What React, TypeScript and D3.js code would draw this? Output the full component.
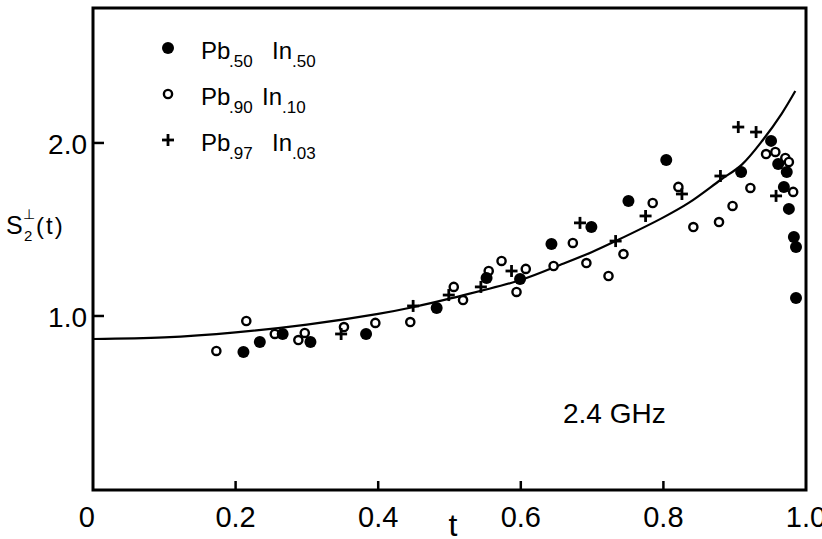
import React from "react";
import * as d3 from "d3";

// Pb.50 In.50 (filled circles): [t, S]
const filledPts: [number, number][] = [
  [0.211, 0.792], [0.234, 0.85], [0.266, 0.896], [0.305, 0.85], [0.383, 0.896],
  [0.482, 1.046], [0.552, 1.22], [0.599, 1.214], [0.643, 1.416], [0.699, 1.514],
  [0.751, 1.665], [0.804, 1.902], [0.909, 1.832], [0.951, 2.012], [0.961, 1.879],
  [0.973, 1.832], [0.969, 1.746], [0.976, 1.619], [0.983, 1.457], [0.986, 1.399],
  [0.986, 1.104],
];

// Pb.90 In.10 (open circles)
const openPts: [number, number][] = [
  [0.173, 0.798], [0.215, 0.971], [0.255, 0.896], [0.288, 0.861], [0.297, 0.902],
  [0.352, 0.936], [0.396, 0.96], [0.445, 0.965], [0.506, 1.168], [0.519, 1.092],
  [0.555, 1.26], [0.573, 1.318], [0.594, 1.139], [0.607, 1.272], [0.646, 1.289],
  [0.673, 1.422], [0.692, 1.306], [0.723, 1.231], [0.744, 1.358], [0.785, 1.653],
  [0.821, 1.746], [0.842, 1.514], [0.878, 1.543], [0.897, 1.636], [0.922, 1.74],
  [0.944, 1.936], [0.957, 1.948], [0.971, 1.913], [0.976, 1.89], [0.982, 1.717],
];

// Pb.97 In.03 (plus)
const plusPts: [number, number][] = [
  [0.348, 0.896], [0.449, 1.058], [0.499, 1.121], [0.544, 1.168], [0.587, 1.26],
  [0.683, 1.538], [0.733, 1.433], [0.775, 1.578], [0.826, 1.705], [0.88, 1.809],
  [0.905, 2.092], [0.93, 2.063], [0.958, 1.694],
];

// theory curve
const curvePts: [number, number][] = [
  [0, 0.867], [0.1, 0.876], [0.2, 0.905], [0.3, 0.95], [0.4, 1.012], [0.45, 1.052],
  [0.5, 1.1], [0.6, 1.208], [0.655, 1.295], [0.7, 1.37], [0.733, 1.433], [0.8, 1.57],
  [0.836, 1.655], [0.88, 1.786], [0.91, 1.875], [0.94, 2.02], [0.966, 2.17], [0.985, 2.3],
];

const xTicks = [0, 0.2, 0.4, 0.6, 0.8, 1.0];
const xTickLabels = ["0", "0.2", "0.4", "0.6", "0.8", "1.0"];
const yTicks = [1.0, 2.0];
const yTickLabels = ["1.0", "2.0"];

const legendSubs = [
  [".50", ".50"],
  [".90", ".10"],
  [".97", ".03"],
];

export default function App() {
  const W = 822, H = 539;
  const x = d3.scaleLinear().domain([0, 1]).range([93, 806]);
  const y = d3.scaleLinear().domain([0, 2.78]).range([489, 8]);
  const line = d3
    .line<[number, number]>()
    .x((d) => x(d[0]))
    .y((d) => y(d[1]))
    .curve(d3.curveCatmullRom);
  const font = "'Liberation Sans', Arial, sans-serif";
  const x0 = x(0), x1 = x(1), yb = y(0) + 1, yt = y(2.78);

  const legendRows = [48, 94, 140];
  const inX = [272, 262, 272];
  const rO = 4.1, swO = 2.4, rF = 6, pl = 6;

  return (
    <svg width={W} height={H} style={{ position: "absolute", left: 0, top: 0, background: "#fff" }}>
      <rect x={0} y={0} width={W} height={H} fill="#fff" />
      {/* frame */}
      <rect x={x0} y={yt} width={x1 - x0} height={yb - yt} fill="none" stroke="#000" strokeWidth={3} />
      {/* x ticks inward */}
      {xTicks.slice(1, 5).map((t) => (
        <line key={t} x1={x(t)} x2={x(t)} y1={yb} y2={yb - 9} stroke="#000" strokeWidth={2.5} />
      ))}
      {xTicks.map((t, i) => (
        <text
          key={"xl" + t}
          x={i === 0 ? x(t) + 2 : x(t)}
          y={527}
          fontSize={29}
          fontFamily={font}
          textAnchor={i === 0 ? "end" : "middle"}
        >
          {xTickLabels[i]}
        </text>
      ))}
      {/* y ticks */}
      {yTicks.map((v, i) => (
        <g key={"y" + v}>
          <line x1={x0} x2={x0 + 11} y1={y(v)} y2={y(v)} stroke="#000" strokeWidth={2.5} />
          <text x={87} y={y(v) + 11} fontSize={28} fontFamily={font} textAnchor="end">
            {yTickLabels[i]}
          </text>
        </g>
      ))}
      {/* axis titles */}
      <text x={6} y={234} fontSize={25} fontFamily={font}>S</text>
      <text x={23} y={219} fontSize={14} fontFamily="'DejaVu Sans', sans-serif">⊥</text>
      <text x={24} y={241} fontSize={15} fontFamily={font}>2</text>
      <text x={36} y={234} fontSize={24} fontFamily={font} letterSpacing={2}>(t)</text>
      <text x={453} y={536} fontSize={32} fontFamily={font} textAnchor="middle">t</text>
      <text x={563} y={423} fontSize={28} fontFamily={font}>2.4 GHz</text>

      {/* curve */}
      <path d={line(curvePts) || ""} fill="none" stroke="#000" strokeWidth={2.2} />

      {/* points */}
      {openPts.map((d, i) => (
        <circle key={"o" + i} cx={x(d[0])} cy={y(d[1])} r={rO} fill="#fff" stroke="#000" strokeWidth={swO} />
      ))}
      {plusPts.map((d, i) => (
        <g key={"p" + i} stroke="#000" strokeWidth={2.8}>
          <line x1={x(d[0]) - pl} x2={x(d[0]) + pl} y1={y(d[1])} y2={y(d[1])} />
          <line x1={x(d[0])} x2={x(d[0])} y1={y(d[1]) - pl} y2={y(d[1]) + pl} />
        </g>
      ))}
      {filledPts.map((d, i) => (
        <circle key={"f" + i} cx={x(d[0])} cy={y(d[1])} r={rF} fill="#000" />
      ))}

      {/* legend */}
      <circle cx={168} cy={legendRows[0]} r={rF} fill="#000" />
      <circle cx={168} cy={legendRows[1]} r={rO} fill="#fff" stroke="#000" strokeWidth={swO} />
      <g stroke="#000" strokeWidth={2.8}>
        <line x1={168 - pl} x2={168 + pl} y1={legendRows[2]} y2={legendRows[2]} />
        <line x1={168} x2={168} y1={legendRows[2] - pl} y2={legendRows[2] + pl} />
      </g>
      {legendRows.map((ry, i) => (
        <g key={"lg" + i} fontFamily={font}>
          <text x={201} y={ry + 11} fontSize={24}>Pb</text>
          <text x={229} y={ry + 19} fontSize={17}>{legendSubs[i][0]}</text>
          <text x={inX[i]} y={ry + 11} fontSize={24}>In</text>
          <text x={inX[i] + 20} y={ry + 19} fontSize={17}>{legendSubs[i][1]}</text>
        </g>
      ))}
    </svg>
  );
}
